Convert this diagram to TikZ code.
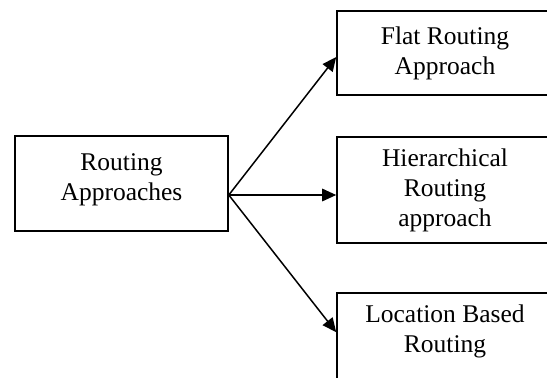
\documentclass[tikz,border=0pt]{standalone}
\usepackage{fontspec}
\setmainfont{Liberation Serif}
\usetikzlibrary{arrows.meta,calc}
\begin{document}
\begin{tikzpicture}[x=1pt,y=-1pt,
  box/.style={draw, line width=1.6pt, align=center, inner sep=0pt,
              font=\fontsize{25.5}{30}\selectfont},
  arr/.style={line width=1.5pt, -{Triangle[length=14pt,width=12.5pt]}}]
\useasboundingbox (0,0) rectangle (547,378);
\clip (0,0) rectangle (547,378);
\node[box, minimum width=213pt, minimum height=95pt, text depth=13pt] (L) at (121.5,183.5) {Routing\\Approaches};
\node[box, minimum width=216pt, minimum height=84pt] (F) at (445,53) {Flat Routing\\Approach};
\node[box, minimum width=216pt, minimum height=106pt] (H) at (445,190) {Hierarchical\\Routing\\approach};
\node[box, minimum width=216pt, minimum height=106pt] (B) at (445,346) {Location Based\\Routing\\\vphantom{p}};
\coordinate (o) at ($(L.east)+(0,11.5)$);
\draw[arr] (o) -- ($(F.west)+(0,4)$);
\draw[arr] (o) -- (H.west |- o);
\draw[arr] (o) -- ($(B.north west)+(0,40)$);
\end{tikzpicture}
\end{document}
